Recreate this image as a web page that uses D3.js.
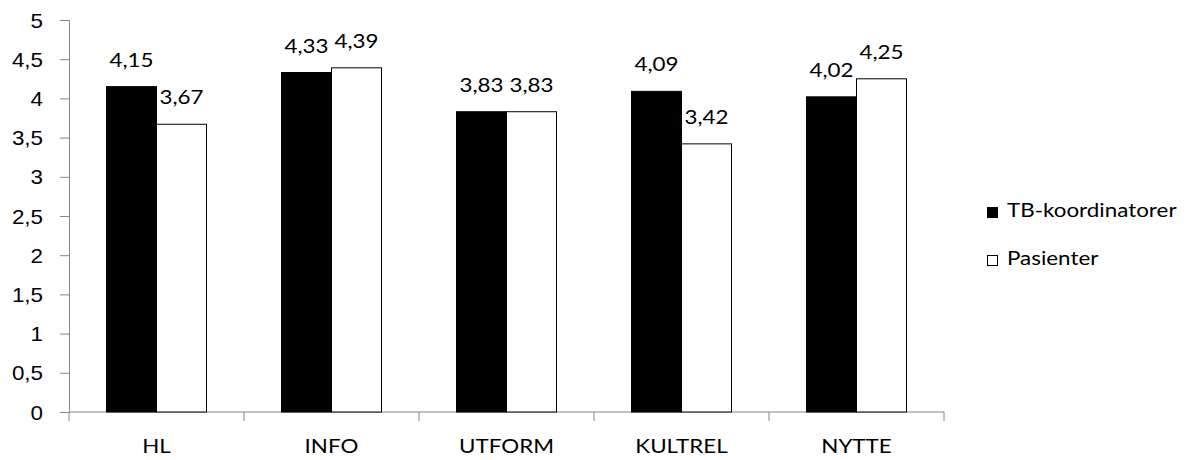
<!DOCTYPE html>
<html>
<head>
<meta charset="utf-8">
<script src="https://cdn.jsdelivr.net/npm/d3@7"></script>
<style>
  body { margin: 0; background: #fff; }
  svg { display: block; font-family: Lato, "Open Sans", sans-serif; }
  .axis path, .axis line { stroke: #868686; }
  .axis text { fill: #000; }
</style>
</head>
<body>
<div class="canvas"></div>
<script>
// Data
const categories = ["HL", "INFO", "UTFORM", "KULTREL", "NYTTE"];
const seriesNames = ["TB-koordinatorer", "Pasienter"];
const coordinators = [4.15, 4.33, 3.83, 4.09, 4.02];
const patients = [3.67, 4.39, 3.83, 3.42, 4.25];
const yTicks = [0, 0.5, 1, 1.5, 2, 2.5, 3, 3.5, 4, 4.5, 5];

const width = 1203, height = 460;
const margin = { top: 20, left: 69, right: 259, bottom: 48 };
const plotW = width - margin.left - margin.right;
const plotH = height - margin.top - margin.bottom;
const fontSize = 20;
const sx = 1.12; // text looks horizontally wide in the reference

const svg = d3.select(".canvas").append("svg")
  .attr("width", width).attr("height", height);
const graph = svg.append("g")
  .attr("transform", `translate(${margin.left},${margin.top})`);

// Place a text at (x, y) and stretch it horizontally around that point
function place(sel, fx, fy) {
  sel.attr("x", 0).attr("y", 0)
    .attr("font-size", fontSize)
    .attr("transform", (d, i) => `translate(${fx(d, i)},${fy(d, i)}) scale(${sx},1)`);
}

// Scales
const x = d3.scaleBand().domain(categories).range([0, plotW]);
const bw = x.bandwidth() / 3.5; // gap width 150%
const y = d3.scaleLinear().domain([0, 5]).range([plotH, 0]);
const fmt = (v) => String(v).replace(".", ",");

// Y axis
const yAxis = graph.append("g").attr("class", "axis")
  .call(d3.axisLeft(y).tickValues(yTicks).tickSize(9).tickFormat(fmt));
yAxis.selectAll(".tick text").attr("dy", null)
  .call(place, () => -26, () => 7);

// X axis (ticks between categories)
const xAxisG = graph.append("g").attr("class", "axis")
  .attr("transform", `translate(0,${plotH})`);
xAxisG.append("line").attr("x1", 0).attr("x2", plotW).attr("stroke", "#868686");
const bounds = categories.map((c) => x(c)).concat([plotW]);
xAxisG.selectAll(".tk").data(bounds).enter().append("line")
  .attr("x1", (d) => d).attr("x2", (d) => d)
  .attr("y1", 0).attr("y2", 9).attr("stroke", "#868686");
xAxisG.selectAll(".lbl").data(categories).enter().append("text")
  .attr("text-anchor", "middle").text((d) => d)
  .call(place, (d) => x(d) + x.bandwidth() / 2, () => 41);

// Bars
const series = [
  { name: seriesNames[0], values: coordinators, fill: "#000" },
  { name: seriesNames[1], values: patients, fill: "#fff" },
];
series.forEach((s, si) => {
  const g = graph.append("g");
  const bx = (i) => x(categories[i]) + 0.75 * bw + si * bw;
  g.selectAll("rect").data(s.values).enter().append("rect")
    .attr("x", (d, i) => bx(i))
    .attr("y", (d) => y(d))
    .attr("width", bw)
    .attr("height", (d) => plotH - y(d))
    .attr("fill", s.fill)
    .attr("stroke", "#000").attr("stroke-width", 1);
  g.selectAll("text").data(s.values).enter().append("text")
    .attr("text-anchor", "middle").text(fmt)
    .call(place, (d, i) => bx(i) + bw / 2, (d) => y(d) - 20);
});

// Legend
const legend = svg.append("g").attr("transform", "translate(987,0)");
series.forEach((s, i) => {
  const ly = 217 + i * 48;
  legend.append("rect").attr("x", 0.5).attr("y", ly - 9.5)
    .attr("width", 10).attr("height", 10)
    .attr("fill", s.fill).attr("stroke", "#000");
  legend.append("text").text(s.name)
    .call(place, () => 20, () => ly);
});
</script>
</body>
</html>
